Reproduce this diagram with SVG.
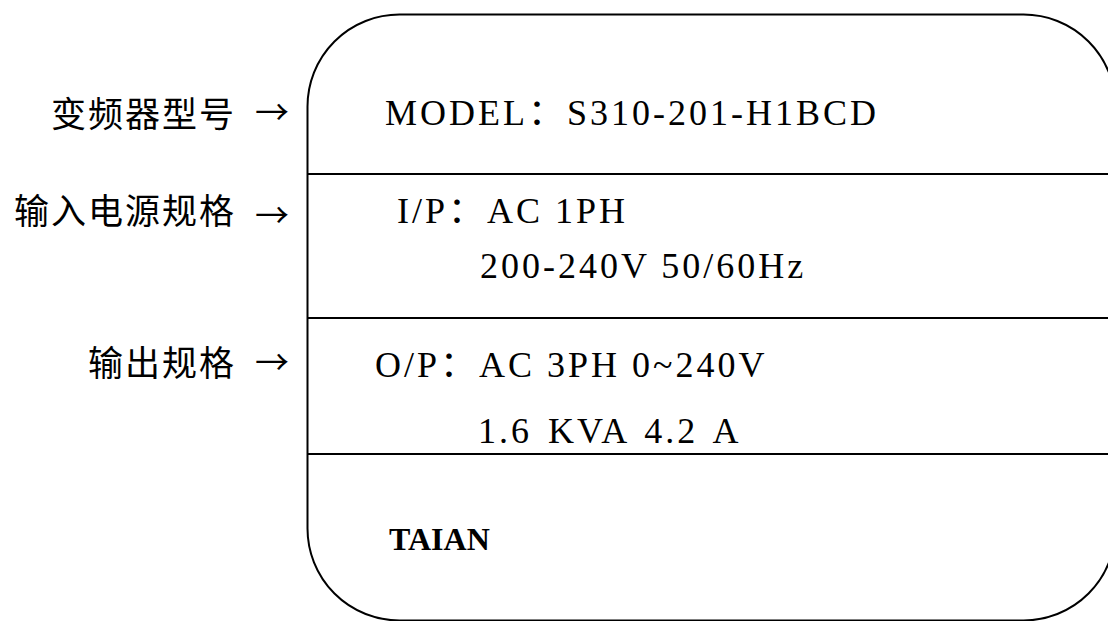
<svg xmlns="http://www.w3.org/2000/svg" width="1108" height="621" viewBox="0 0 1108 621">
<style>
.lbl{font-family:"Liberation Serif","Noto Sans CJK SC",serif;font-size:35px;letter-spacing:2px;fill:#000;text-anchor:end}
.arr{font-family:"Noto Sans CJK SC","Liberation Serif",serif;font-size:34px;fill:#000;text-anchor:end}
.t{font-family:"Liberation Serif","Noto Sans CJK SC",serif;font-size:36px;letter-spacing:3px;fill:#000}
.b{font-family:"Liberation Serif",serif;font-size:32px;font-weight:bold;fill:#000}
.ln{stroke:#000;stroke-width:2;fill:none}
</style>
<rect width="1108" height="621" fill="#fff"/>
<g id="plate">
<rect class="ln" x="307.5" y="14.5" width="808" height="606" rx="92" ry="92"/>
<line class="ln" x1="307.5" y1="174" x2="1116" y2="174"/>
<line class="ln" x1="307.5" y1="318" x2="1116" y2="318"/>
<line class="ln" x1="307.5" y1="454" x2="1116" y2="454"/>
</g>
<g id="label-model">
<text class="lbl" x="236" y="127">变频器型号</text>
</g>
<g id="label-input">
<text class="lbl" x="236" y="224">输入电源规格</text>
</g>
<g id="label-output">
<text class="lbl" x="236" y="376">输出规格</text>
</g>
<g id="connectors">
<text class="arr" x="289" y="125">→</text>
<text class="arr" x="289" y="228">→</text>
<text class="arr" x="289" y="375">→</text>
</g>
<g id="model-text">
<text class="t" x="385" y="125">MODEL：S310-201-H1BCD</text>
</g>
<g id="input-text">
<text class="t" x="397" y="223">I/P：AC 1PH</text>
<text class="t" x="480" y="278">200-240V 50/60Hz</text>
</g>
<g id="output-text">
<text class="t" x="375" y="377">O/P：AC 3PH 0~240V</text>
<text class="t" x="478" y="443" word-spacing="4">1.6 KVA 4.2 A</text>
</g>
<g id="brand">
<text class="b" x="389" y="550">TAIAN</text>
</g>
</svg>
